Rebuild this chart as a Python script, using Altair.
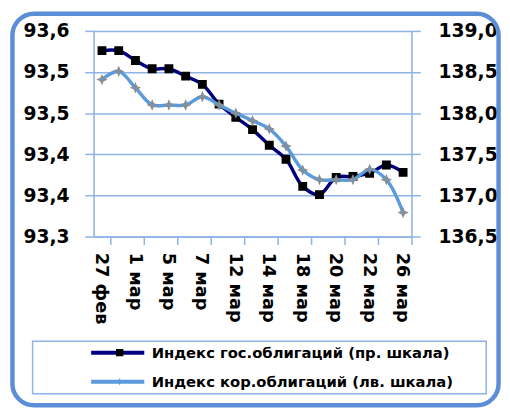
import json
import altair as alt
import pandas as pd

dates = ["27 фев", "28 фев", "1 мар", "4 мар", "5 мар", "6 мар", "7 мар", "11 мар",
         "12 мар", "13 мар", "14 мар", "15 мар", "18 мар", "19 мар", "20 мар", "21 мар",
         "22 мар", "25 мар", "26 мар"]
gos = [138.76, 138.76, 138.64, 138.54, 138.54, 138.45, 138.35, 138.11, 137.95, 137.80,
       137.61, 137.44, 137.11, 137.01, 137.22, 137.23, 137.27, 137.37, 137.28]
kor = [93.529, 93.541, 93.517, 93.492, 93.492, 93.492, 93.504, 93.492, 93.480, 93.469,
       93.457, 93.432, 93.397, 93.383, 93.383, 93.383, 93.398, 93.383, 93.335]
gos_name = "Индекс гос.облигаций (пр. шкала)"
kor_name = "Индекс кор.облигаций (лв. шкала)"
left_ticks = [93.3, 93.36, 93.42, 93.48, 93.54, 93.6]
right_ticks = [136.5, 137.0, 137.5, 138.0, 138.5, 139.0]
label_idx = list(range(0, len(dates), 2))

idx = list(range(len(dates)))
df_gos = pd.DataFrame({"i": idx, "v": gos, "series": gos_name, "marker": gos_name})
df_kor = pd.DataFrame({"i": idx, "v": kor, "series": kor_name, "marker": kor_name})

W, H = 323, 209
NAVY = "#000080"
LIGHT = "#5B9BDC"
GRID = "#8EB4E3"
BORDER = "#5B8ED6"
GRAY = "#8C8C8C"
FONT = "DejaVu Sans"
STAR = "M0,-1L0.3,-0.3L1,0L0.3,0.3L0,1L-0.3,0.3L-1,0L-0.3,-0.3Z"

x_enc = alt.X(
    "i:Q",
    scale=alt.Scale(domain=[-0.5, len(dates) - 0.5], nice=False, zero=False),
    axis=alt.Axis(
        values=label_idx,
        labelExpr=json.dumps(dates, ensure_ascii=False) + "[datum.value]",
        title=None, grid=False,
        domainColor=GRID, domainWidth=1.5,
        tickColor=GRID, tickWidth=1.5, tickSize=8, tickOffset=8.5,
        labelOffset=-10, labelAngle=90, labelPadding=8,
        labelFont=FONT, labelFontWeight="bold", labelFontSize=18, labelColor="black",
        labelOverlap=False, labelFlush=False, labelBound=False,
    ),
)

def y_axis(orient, values, pad, grid):
    return alt.Axis(
        orient=orient, values=values, title=None, grid=grid,
        gridColor=GRID, gridWidth=1.5,
        domainColor=GRID, domainWidth=1.5,
        tickColor=GRID, tickWidth=1.5, tickSize=9,
        labelPadding=pad, labelFont=FONT, labelFontWeight="bold", labelFontSize=19,
        labelColor="black",
        labelExpr="replace(format(datum.value, '.1f'), '.', ',')",
        labelOverlap=False, labelFlush=False,
    )

y_gos = alt.Y("v:Q", scale=alt.Scale(domain=[136.5, 139.0], nice=False, zero=False),
              axis=y_axis("right", right_ticks, 18, False))
y_kor = alt.Y("v:Q", scale=alt.Scale(domain=[93.3, 93.6], nice=False, zero=False),
              axis=y_axis("left", left_ticks, 16, True))

stroke_scale = alt.Scale(domain=[gos_name, kor_name], range=[NAVY, LIGHT])
fill_scale = alt.Scale(range=["black", LIGHT])
shape_scale = alt.Scale(range=["square", STAR])

common_leg = dict(orient="none", legendY=317, title=None, clipHeight=20, rowPadding=9.5,
                  labelOffset=5.5, padding=0, labelFont=FONT, labelFontWeight="bold",
                  labelFontSize=15, labelLimit=400)
line_legend = alt.Legend(legendX=-4.5, symbolType="stroke", symbolSize=2916,
                         symbolStrokeWidth=4, labelColor="black", zindex=1, **common_leg)
marker_legend = alt.Legend(legendX=19, symbolSize=56, symbolStrokeWidth=1,
                           symbolStrokeColor=GRAY, labelExpr="''",
                           labelColor="transparent", zindex=2, **common_leg)

def series_layer(df, y_enc, mstroke, msize):
    line = alt.Chart(df).mark_line(strokeWidth=3.5, interpolate="catmull-rom").encode(
        x=x_enc, y=y_enc,
        stroke=alt.Stroke("series:N", scale=stroke_scale, legend=line_legend),
    )
    pts = alt.Chart(df).mark_point(filled=True, size=msize, opacity=1, stroke=mstroke,
                                   strokeWidth=1.5).encode(
        x=x_enc, y=y_enc,
        fill=alt.Fill("marker:N", scale=fill_scale, legend=marker_legend),
        shape=alt.Shape("marker:N", scale=shape_scale, legend=marker_legend),
    )
    return alt.layer(line, pts)

one = pd.DataFrame({"k": [0]})
border = alt.Chart(one).mark_rect(fill="transparent", stroke=BORDER, strokeWidth=4.5,
                                  cornerRadius=22).encode(
    x=alt.value(-82.5), x2=alt.value(411.5), y=alt.value(-17.5), y2=alt.value(380.5))
legend_box = alt.Chart(one).mark_rect(fill="transparent", stroke=GRID, strokeWidth=1.5).encode(
    x=alt.value(-62), x2=alt.value(399), y=alt.value(315.3), y2=alt.value(368.7))

chart = alt.layer(
    border, legend_box,
    series_layer(df_gos, y_gos, "black", 56),
    series_layer(df_kor, y_kor, GRAY, 60),
).resolve_scale(y="independent").properties(
    width=W, height=H,
    autosize=alt.AutoSizeParams(type="none"),
    padding={"left": 87, "top": 20, "right": 92, "bottom": 175},
).configure_view(stroke=None).configure(background="white")

chart.save("out.html", embed_options={"renderer": "svg", "actions": False})
